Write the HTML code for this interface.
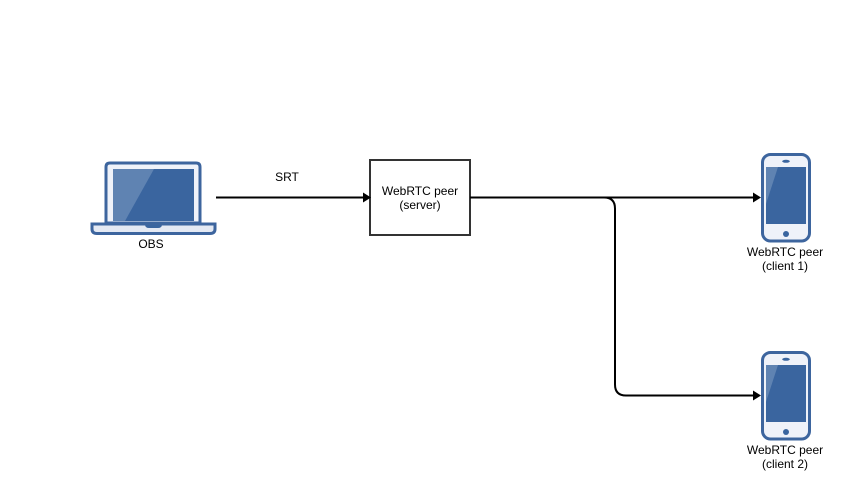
<!DOCTYPE html>
<html><head><meta charset="utf-8"><style>html,body{margin:0;padding:0;background:#fff}svg{display:block}text{font-family:"Liberation Sans",Arial,sans-serif;font-size:12px;fill:#000;text-anchor:middle}</style></head>
<body><svg width="845" height="491" viewBox="0 0 845 491" xmlns="http://www.w3.org/2000/svg">
<defs>
<g id="phone">
<rect x="762.500" y="154.500" width="47" height="86.500" rx="8" fill="#eff2f9" stroke="#3d659e" stroke-width="3"/>
<rect x="766" y="167" width="40" height="57" fill="#3a659f"/>
<path d="M766 167H778L766 204Z" fill="#5f83b2"/>
<ellipse cx="786" cy="161.300" rx="3.800" ry="1.500" fill="#3a659f"/>
<circle cx="786" cy="234" r="3" fill="#3a659f"/>
</g>
</defs>
<!-- laptop -->
<path d="M106 223V167Q106 163 110 163H196Q200 163 200 167V223Z" fill="#eff2f9" stroke="#3d659e" stroke-width="3"/>
<rect x="113" y="169" width="81" height="52" fill="#3a659f"/>
<path d="M113 169H154L125 221H113Z" fill="#5f83b2"/>
<path d="M92 224H215V229Q215 233.500 210 233.500H97Q92 233.500 92 229Z" fill="#e4e9f3" stroke="#3d659e" stroke-width="3"/>
<path d="M145 225H162Q161.500 228 158 228H149Q145.500 228 145 225Z" fill="#3a659f"/>
<text x="151" y="248">OBS</text>
<!-- phones -->
<use href="#phone"/>
<use href="#phone" y="198"/>
<text x="785" y="256">WebRTC peer</text>
<text x="785" y="270">(client 1)</text>
<text x="785" y="454">WebRTC peer</text>
<text x="785" y="468">(client 2)</text>
<!-- server -->
<rect x="370" y="160" width="100" height="75" fill="#fff" stroke="#333" stroke-width="2"/>
<text x="420" y="195">WebRTC peer</text>
<text x="420" y="209">(server)</text>
<!-- connectors -->
<g fill="none" stroke="#000" stroke-width="2">
<path d="M216 197.500H364"/>
<path d="M470 197.500H754"/>
<path d="M470 197.500H604Q615 197.500 615 208.500V384.500Q615 395.500 626 395.500H754"/>
</g>
<path d="M371 197.500L363 192.500V202.500Z"/>
<path d="M761 197.500L753 192.500V202.500Z"/>
<path d="M761 395.500L753 390.500V400.500Z"/>
<text x="287" y="181">SRT</text>
</svg></body></html>
